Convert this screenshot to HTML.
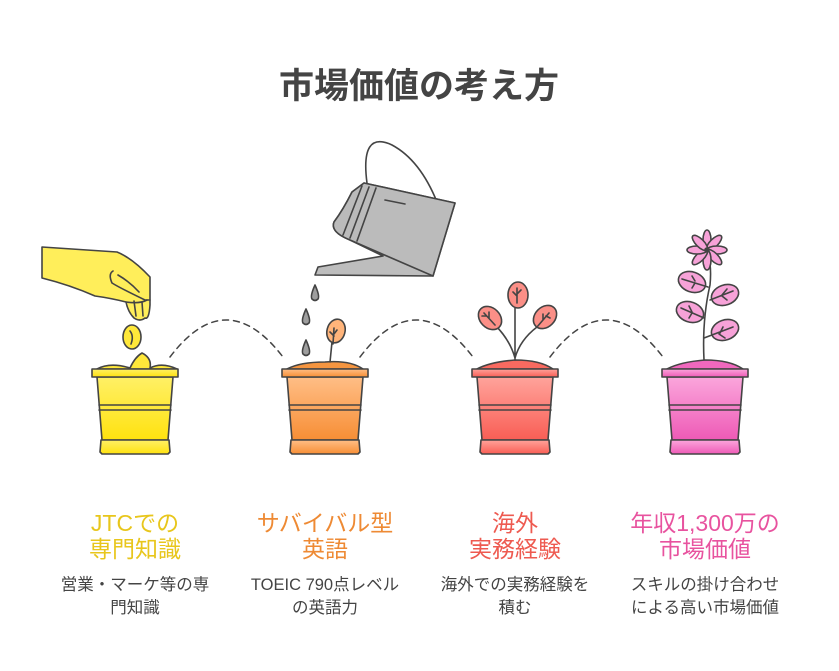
<!DOCTYPE html>
<html><head><meta charset="utf-8"><style>
html,body{margin:0;padding:0;background:#fff;}
svg{display:block;font-family:"Liberation Sans","Noto Sans CJK JP",sans-serif;}
</style></head><body>
<svg width="839" height="671" viewBox="0 0 839 671" xmlns="http://www.w3.org/2000/svg">
<defs>
<linearGradient id="gy" x1="0" y1="0" x2="0" y2="1"><stop offset="0" stop-color="#FFF066"/><stop offset="1" stop-color="#FFE20F"/></linearGradient>
<linearGradient id="go" x1="0" y1="0" x2="0" y2="1"><stop offset="0" stop-color="#FFBE86"/><stop offset="1" stop-color="#F78E35"/></linearGradient>
<linearGradient id="gr" x1="0" y1="0" x2="0" y2="1"><stop offset="0" stop-color="#FFA39B"/><stop offset="1" stop-color="#F95E55"/></linearGradient>
<linearGradient id="gp" x1="0" y1="0" x2="0" y2="1"><stop offset="0" stop-color="#FBA6DC"/><stop offset="1" stop-color="#EE5AB6"/></linearGradient>
<g id="pot">
<path d="M-38,377 L38,377 L33,440 L-33,440 Z"/>
<rect x="-43" y="369" width="86" height="8"/>
<path d="M-34,440 L34,440 L35,452 L33,454 L-33,454 L-35,452 Z"/>
<path d="M-36,405 L36,405 M-36,410 L36,410" fill="none"/>
</g>
</defs>
<g stroke="#444" stroke-width="1.6" stroke-linejoin="round" stroke-linecap="round">
<text x="419" y="98" font-size="35" font-weight="bold" fill="#444" stroke="none" text-anchor="middle">市場価値の考え方</text>

<g fill="none" stroke-dasharray="6,5" stroke-width="1.5">
<path d="M170,357 Q226,283 283,357"/>
<path d="M360,357 Q416,283 473,357"/>
<path d="M550,357 Q606,283 663,357"/>
</g>

<path d="M97,369 Q110,362 130,368 Q135,357 142,353 Q152,358 150,368 Q162,362 177,369 Z" fill="#FFE83A"/>
<ellipse cx="132" cy="337" rx="9" ry="12" fill="#FFE83A"/>
<path d="M130,331 Q134,336 131,344" fill="none"/>
<use href="#pot" x="135" fill="url(#gy)"/>
<path d="M42,247 L117,252 Q132,258 150,277 L150,305 Q149,320 145,318 Q140,322 134,318 Q128,312 126,302 Q110,298 95,296 Q70,285 42,278 Z" fill="#FFEE5A"/>
<path d="M113,271 Q108,274 112,283 Q120,288 145,300 L150,300" fill="none"/>
<path d="M126,302 Q140,304 147,300 M134,301 L136,316 M142,302 L143,316" fill="none"/>
<path d="M118,275 Q130,282 139,292" fill="none"/>

<path d="M367,183 Q360,130 392,145 Q420,160 437,202" fill="none"/>
<path d="M364,183 L455,203 L433,276 L315,275 L318,267 L383,256 L350,240 Q330,232 334,222 Q343,210 352,192 Z" fill="#BDBDBD"/>
<path d="M364,183 L455,203 L433,276 L350,240 Q330,232 334,222 Q343,210 352,192 Z" fill="#BBBBBB"/>
<path d="M362,186 L343,235 M369,187 L350,238 M376,188 L357,241 M385,200 L405,204" fill="none"/>
<g fill="#9E9E9E">
<path d="M315,285 Q320,296 318,299 Q315,302 312,299 Q310,296 315,285 Z"/>
<path d="M306,309 Q311,320 309,323 Q306,326 303,323 Q301,320 306,309 Z"/>
<path d="M306,340 Q311,351 309,354 Q306,357 303,354 Q301,351 306,340 Z"/>
</g>

<path d="M287,369 Q300,362 325,362 Q350,360 363,369 Z" fill="#F59540"/>
<path d="M330,362 L332,342" fill="none"/>
<ellipse cx="336" cy="331" rx="9" ry="12" fill="#FFB47A" transform="rotate(15 336 331)"/>
<path d="M333,344 L334,328 M334,336 L330,332 M334,334 L337,330" fill="none"/>
<use href="#pot" x="325" fill="url(#go)"/>

<path d="M477,369 Q490,362 515,360 Q540,360 553,369 Z" fill="#F96A60"/>
<path d="M515,360 L515,305 M515,358 Q510,340 495,325 M515,358 Q520,340 537,327" fill="none"/>
<ellipse cx="518" cy="295" rx="10" ry="13" fill="#FB8F87"/>
<ellipse cx="490" cy="318" rx="10" ry="13" fill="#FB8F87" transform="rotate(-45 490 318)"/>
<ellipse cx="545" cy="317" rx="10" ry="13" fill="#FB8F87" transform="rotate(45 545 317)"/>
<path d="M517,303 L517,288 M517,296 L513,292 M517,294 L521,290 M495,325 L484,313 M489,318 L489,312 M486,316 L482,316 M537,327 L549,313 M543,320 L543,314 M546,316 L550,318" fill="none"/>
<use href="#pot" x="515" fill="url(#gr)"/>

<path d="M667,369 Q680,362 705,360 Q730,360 743,369 Z" fill="#F068BD"/>
<path d="M704,360 Q702,320 710,285 Q712,265 707,250" fill="none"/>
<g fill="#F7A2D8">
<ellipse cx="692" cy="282" rx="14" ry="10" transform="rotate(20 692 282)"/>
<ellipse cx="725" cy="295" rx="14" ry="10" transform="rotate(-20 725 295)"/>
<ellipse cx="690" cy="312" rx="14" ry="10" transform="rotate(20 690 312)"/>
<ellipse cx="725" cy="330" rx="14" ry="10" transform="rotate(-20 725 330)"/>
</g>
<path d="M708,287 L682,279 M695,281 L692,276 M695,283 L692,288 M710,300 L733,291 M722,295 L727,289 M722,296 L727,300 M704,318 L681,308 M692,312 L689,306 M692,313 L689,318 M704,338 L733,327 M720,333 L723,327 M719,334 L725,338" fill="none"/>
<g fill="#F7A2D8" transform="translate(707,250)">
<ellipse cx="0" cy="-10" rx="4" ry="10"/>
<ellipse cx="0" cy="-10" rx="4" ry="10" transform="rotate(45)"/>
<ellipse cx="0" cy="-10" rx="4" ry="10" transform="rotate(90)"/>
<ellipse cx="0" cy="-10" rx="4" ry="10" transform="rotate(135)"/>
<ellipse cx="0" cy="-10" rx="4" ry="10" transform="rotate(180)"/>
<ellipse cx="0" cy="-10" rx="4" ry="10" transform="rotate(225)"/>
<ellipse cx="0" cy="-10" rx="4" ry="10" transform="rotate(270)"/>
<ellipse cx="0" cy="-10" rx="4" ry="10" transform="rotate(315)"/>
<circle r="2" fill="#444"/>
</g>
<use href="#pot" x="705" fill="url(#gp)"/>
</g>

<g font-size="23" text-anchor="middle">
<text x="135" y="531" fill="#E8C61C">JTCでの</text>
<text x="135" y="557" fill="#E8C61C">専門知識</text>
<text x="325" y="531" fill="#EE8A34">サバイバル型</text>
<text x="325" y="557" fill="#EE8A34">英語</text>
<text x="515" y="531" fill="#EE5A50">海外</text>
<text x="515" y="557" fill="#EE5A50">実務経験</text>
<text x="705" y="531" fill="#E8539F">年収1,300万の</text>
<text x="705" y="557" fill="#E8539F">市場価値</text>
</g>
<g font-size="16.5" text-anchor="middle" fill="#444">
<text x="135" y="590">営業・マーケ等の専</text>
<text x="135" y="613">門知識</text>
<text x="325" y="590">TOEIC 790点レベル</text>
<text x="325" y="613">の英語力</text>
<text x="515" y="590">海外での実務経験を</text>
<text x="515" y="613">積む</text>
<text x="705" y="590">スキルの掛け合わせ</text>
<text x="705" y="613">による高い市場価値</text>
</g>
</svg>
</body></html>
